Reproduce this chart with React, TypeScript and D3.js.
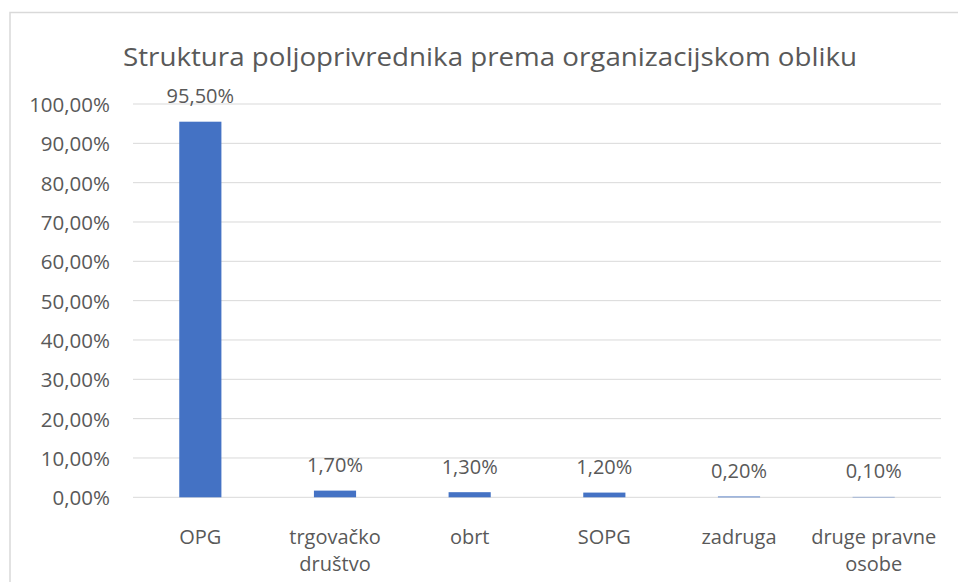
import React from 'react';
import * as d3 from 'd3';

const categories = ['OPG', 'trgovačko\ndruštvo', 'obrt', 'SOPG', 'zadruga', 'druge pravne\nosobe'];
const values = [95.5, 1.7, 1.3, 1.2, 0.2, 0.1];
const yTicks = [0, 10, 20, 30, 40, 50, 60, 70, 80, 90, 100];
const title = 'Struktura poljoprivrednika prema organizacijskom obliku';

const W = 958;
const H = 582;
const FONT = '"Open Sans", sans-serif';
const TEXT = '#595959';
const GRID = '#d9d9d9';
const BAR = '#4472c4';

const pct = (v: number) => v.toFixed(2).replace('.', ',') + '%';

const App = () => {
  const x = d3
    .scaleBand<string>()
    .domain(categories)
    .range([133, 941])
    .paddingInner(0.687)
    .paddingOuter(0.3435);
  const y = d3.scaleLinear().domain([0, 100]).range([497.3, 104]);

  return (
    <svg width={W} height={H} style={{ position: 'absolute', left: 0, top: 0 }}>
      <rect x={0} y={0} width={W} height={H} fill="white" />
      <rect x={10} y={12.5} width={1000} height={700} fill="none" stroke={GRID} strokeWidth={1.5} />
      <text
        x={490}
        y={66}
        textAnchor="middle"
        fontFamily={FONT}
        fontSize={26}
        fill={TEXT}
        textLength={734}
        lengthAdjust="spacingAndGlyphs"
      >
        {title}
      </text>
      {yTicks.map(t => (
        <g key={t}>
          <line x1={133} x2={941} y1={y(t)} y2={y(t)} stroke={GRID} strokeWidth={1} />
          <text
            x={110}
            y={y(t)}
            textAnchor="end"
            dominantBaseline="central"
            fontFamily={FONT}
            fontSize={20.5}
            fill={TEXT}
          >
            {pct(t)}
          </text>
        </g>
      ))}
      {categories.map((c, i) => (
        <g key={c}>
          <rect
            x={x(c)}
            y={y(values[i])}
            width={x.bandwidth()}
            height={y(0) - y(values[i])}
            fill={BAR}
          />
          <text
            x={(x(c) ?? 0) + x.bandwidth() / 2}
            y={y(values[i]) - 18.5}
            textAnchor="middle"
            fontFamily={FONT}
            fontSize={20}
            fill={TEXT}
          >
            {pct(values[i])}
          </text>
          {c.split('\n').map((line, j) => (
            <text
              key={j}
              x={(x(c) ?? 0) + x.bandwidth() / 2}
              y={544 + j * 27}
              textAnchor="middle"
              fontFamily={FONT}
              fontSize={20}
              fill={TEXT}
            >
              {line}
            </text>
          ))}
        </g>
      ))}
    </svg>
  );
};

export default App;
